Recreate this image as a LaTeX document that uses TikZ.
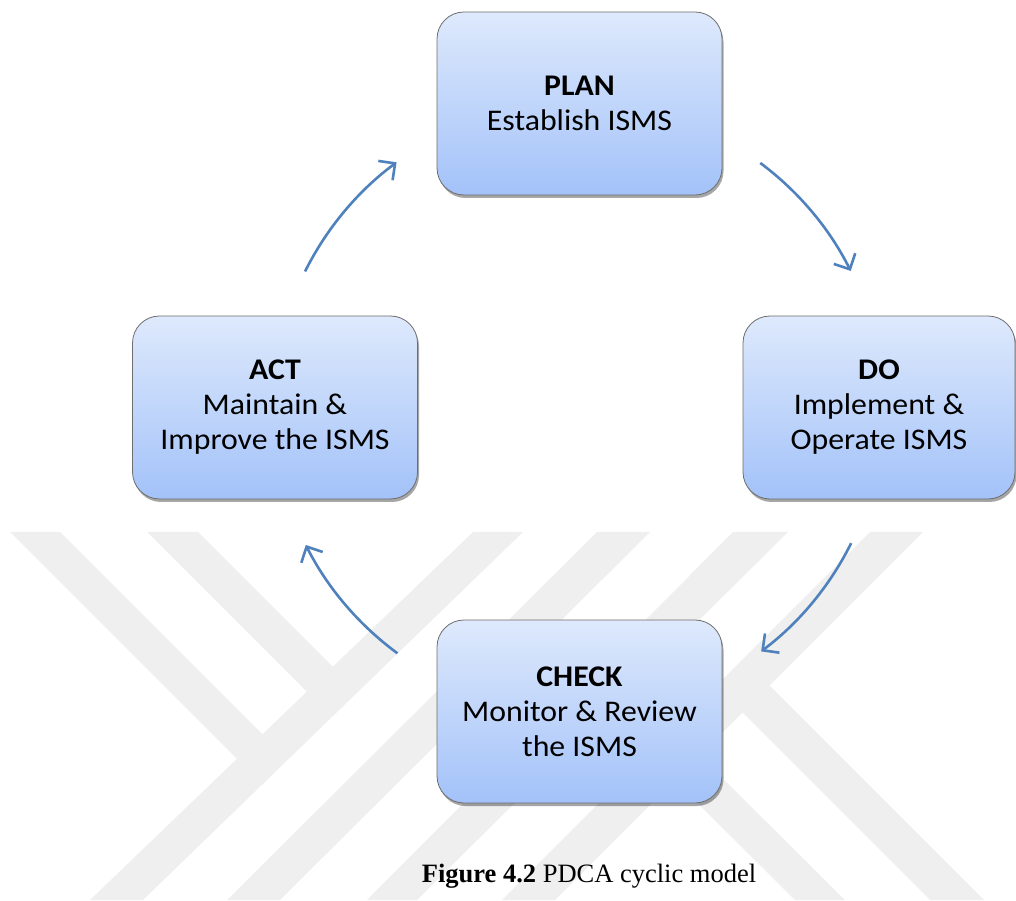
\documentclass[tikz,border=0pt]{standalone}
\usepackage{fontspec}
\setmainfont{Carlito}[FakeStretch=1.06]
\newfontfamily\capfont{Liberation Serif}
\usetikzlibrary{arrows.meta,shadows}
\definecolor{wm}{RGB}{239,239,239}
\definecolor{boxtop}{RGB}{222,233,252}
\definecolor{boxbot}{RGB}{163,194,249}
\definecolor{arrblue}{RGB}{79,129,189}
\definecolor{boxedge}{RGB}{110,110,110}
\begin{document}
\begin{tikzpicture}[x=1pt,y=1pt,
  phase/.style={draw=boxedge, line width=0.8pt, rounded corners=27pt,
    top color=boxtop, bottom color=boxbot, minimum width=285pt,
    minimum height=183pt, align=center, inner sep=0pt,
    font=\fontsize{30}{35}\selectfont,
    drop shadow={shadow xshift=1.5pt, shadow yshift=-3pt, opacity=0.35, fill=black}},
  cyc/.style={draw=arrblue, line width=2.6pt,
    -{Straight Barb[length=12pt,width=24pt]}},
  wmark/.style={fill=wm},
]
\useasboundingbox (0,0) rectangle (1016,900);
% watermark (image coordinates)
\begin{scope}[shift={(0,900)}, yscale=-1]
  \fill[wmark] (10,532) -- (60,532) -- (273,745) -- (248,770) -- cycle;
  \fill[wmark] (147,532) -- (198,532) -- (342,676) -- (316,701) -- cycle;
  \fill[wmark] (473,532) -- (523,532) -- (143,900) -- (90,900) -- cycle;
  \fill[wmark] (597,532) -- (650,532) -- (280,900) -- (227,900) -- cycle;
  \fill[wmark] (733,532) -- (788,532) -- (417,900) -- (367,900) -- cycle;
  \fill[wmark] (870,532) -- (923,532) -- (555,900) -- (502,900) -- cycle;
  \fill[wmark] (756,672) -- (984,900) -- (930,900) -- (729,699) -- cycle;
  \fill[wmark] (686,742) -- (845,900) -- (795,900) -- (661,767) -- cycle;
\end{scope}

\node[phase] (plan) at (579.5,796.5) {\textbf{PLAN}\\Establish ISMS};
\node[phase] (do) at (879,492.5) [minimum width=272pt] {\textbf{DO}\\Implement \&\\Operate ISMS};
\node[phase] (check) at (579.5,188.5) {\textbf{CHECK}\\Monitor \& Review\\the ISMS};
\node[phase] (act) at (275,492.5) {\textbf{ACT}\\Maintain \&\\Improve the ISMS};

\coordinate (hub) at (578,492.5);
\draw[cyc] ([shift={(53.3:305)}]hub) arc[start angle=53.3, end angle=26.6, radius=305];
\draw[cyc] ([shift={(-26.4:305)}]hub) arc[start angle=-26.4, end angle=-53.1, radius=305];
\draw[cyc] ([shift={(233.7:305)}]hub) arc[start angle=233.7, end angle=206.8, radius=305];
\draw[cyc] ([shift={(153.5:305)}]hub) arc[start angle=153.5, end angle=126.5, radius=305];

\node[anchor=base, font=\capfont\fontsize{26.5}{30}\selectfont] (cap) at (589,18)
  {\textbf{Figure 4.2} PDCA cyclic model};
\end{tikzpicture}
\end{document}
